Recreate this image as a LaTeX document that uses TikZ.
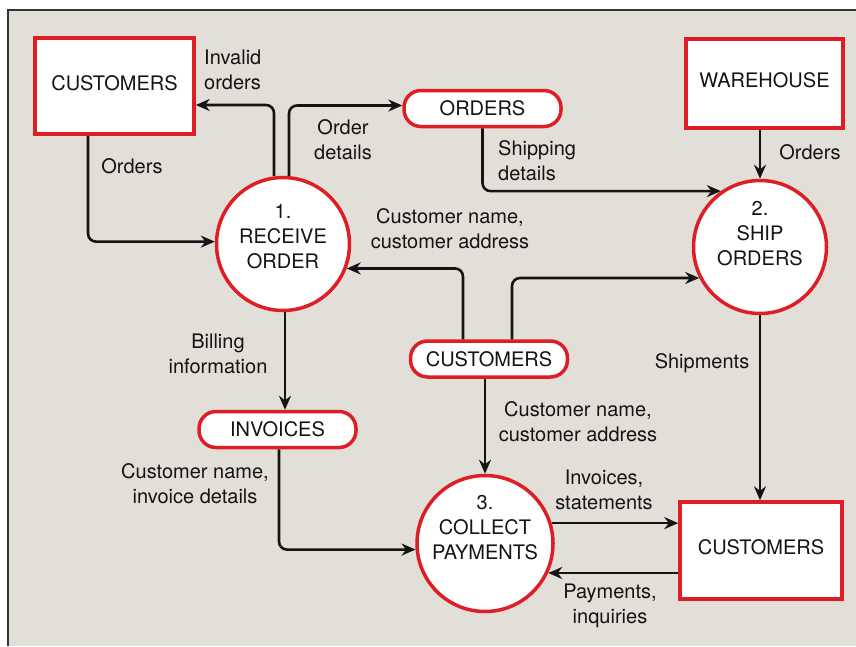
\documentclass[tikz,border=0pt]{standalone}
\usepackage{fontspec}
\setmainfont{TeX Gyre Heros}
\usetikzlibrary{arrows.meta,calc}
\definecolor{bg}{RGB}{226,223,216}
\definecolor{bred}{RGB}{222,30,36}
\definecolor{ink}{RGB}{20,20,20}
\begin{document}
\begin{tikzpicture}[x=1pt,y=-1pt,
  every node/.style={font=\fontsize{20}{25}\selectfont, text=ink},
  entity/.style={draw=bred, line width=3.5pt, fill=white, minimum width=159pt, minimum height=96pt, inner sep=0pt, text depth=6pt},
  store/.style={draw=bred, line width=3.5pt, fill=white, rounded corners=17pt, minimum width=157pt, minimum height=36pt, inner sep=0pt},
  proc/.style={circle, draw=bred, line width=3.5pt, fill=white, minimum size=133pt, inner sep=0pt},
  lbl/.style={align=center, inner sep=0pt},
  flow/.style={draw=ink, line width=2.6pt, rounded corners=8pt, -{Stealth[length=14pt,width=12pt]}}]
\useasboundingbox (0,0) rectangle (856,646);
\fill[white] (0,0) rectangle (856,646);
\fill[bg] (8,10) rectangle (856,646);
\draw[line width=2pt, black!80] (8,646) -- (8,10) -- (856,10);

% entities
\node[entity] (cust1) at (114.5,86) {CUSTOMERS};
\node[entity, minimum width=157pt, minimum height=89pt] (wh) at (764.5,83.5) {WAREHOUSE};
\node[entity, minimum width=162pt, minimum height=97pt] (cust3) at (761,550.5) {CUSTOMERS};
% stores
\node[store] (ord) at (482.5,108.5) {ORDERS};
\node[store] (custm) at (489,359) {CUSTOMERS};
\node[store] (inv) at (277.5,429.5) {INVOICES};
% processes
\node[proc] (c1) at (283,244) {};
\node[proc] (c2) at (760,247) {};
\node[proc, minimum size=136pt] (c3) at (485,543.5) {};
\node[lbl] (t1) at (283,237) {1.\\RECEIVE\\ORDER};
\node[lbl] (t2) at (760,234) {2.\\SHIP\\ORDERS};
\node[lbl] (t3) at (485,528) {3.\\COLLECT\\PAYMENTS};

% flows
\draw[flow] ([xshift=-26.5pt]cust1.south) |- (c1.178);
\draw[flow] ([xshift=-9pt]c1.north) |- ([yshift=-19pt]cust1.east);
\draw[flow] ([xshift=6pt]c1.north) |- ([yshift=3pt]ord.west);
\draw[flow] (ord.south) |- (c2.125);
\draw[flow] (wh.south -| c2.north) -- (c2.north);
\draw[flow] ([xshift=-26pt]custm.north) |- (c1.-21);
\draw[flow] ([xshift=23pt]custm.north) |- (c2.207);
\draw[flow] ([xshift=2pt]c1.south) -- ([xshift=2pt]c1.south |- inv.north);
\draw[flow] ([xshift=1.5pt]inv.south) |- (c3.185);
\draw[flow] (custm.south -| c3.north) -- (c3.north);
\draw[flow] (c2.south) -- (c2.south |- cust3.north);
\draw[flow] (c3.17.6) -- (c3.17.6 -| cust3.west);
\draw[flow] (cust3.west |- c3.-25.7) -- (c3.-25.7);

% labels
\node[lbl, anchor=west, align=left] (l1) at (204,70) {Invalid\\orders};
\node[lbl] (l2) at (132,166) {Orders};
\node[lbl] (l3) at (343,140) {Order\\details};
\node[lbl, anchor=west, align=left] (l4) at (498,161) {Shipping\\details};
\node[lbl] (l5) at (810,152) {Orders};
\node[lbl] (l6) at (450,229) {Customer name,\\customer address};
\node[lbl] (l7) at (218,354) {Billing\\information};
\node[lbl] (l8) at (195,484) {Customer name,\\invoice details};
\node[lbl] (l9) at (578,422) {Customer name,\\customer address};
\node[lbl] (l10) at (702,363) {Shipments};
\node[lbl] (l11) at (604,490) {Invoices,\\statements};
\node[lbl] (l12) at (610,606) {Payments,\\inquiries};
\end{tikzpicture}
\end{document}
